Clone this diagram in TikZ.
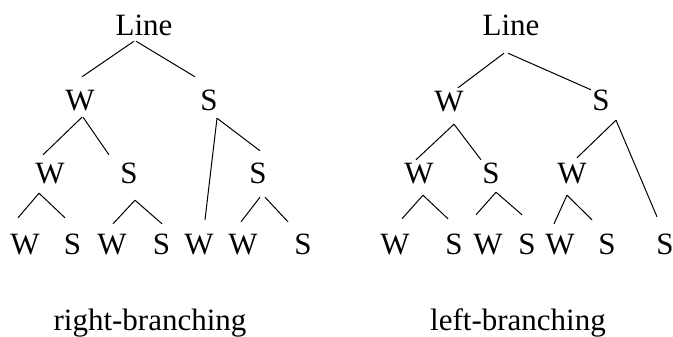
\documentclass[tikz,border=0pt]{standalone}
\usepackage{fontspec}
\setmainfont{Liberation Serif}
\usetikzlibrary{positioning}

\tikzset{
  syl/.style={font=\fontsize{31}{37}\selectfont,inner sep=0pt,
    text height=20.5pt,text depth=0pt},
  caption/.style={font=\fontsize{31}{37}\selectfont,inner sep=0pt,anchor=base},
  branch/.style={line width=1pt}
}

\begin{document}
\begin{tikzpicture}[x=1pt,y=-1pt]
  \useasboundingbox (0,0) rectangle (673,337);

  % right-branching tree
  \node[syl] (lineA) at (144,25) {Line};
  \node[syl] (wA1) at (80,100) {W};
  \node[syl] (sA1) at (209,100) {S};
  \node[syl] (wA2) at (50,173) {W};
  \node[syl] (sA2) at (129,173) {S};
  \node[syl] (sA3) at (258,173) {S};
  \node[syl] (a1) at (25,244.5) {W};
  \node[syl] (a2) at (72.5,244.5) {S};
  \node[syl] (a3) at (112,244.5) {W};
  \node[syl] (a4) at (161.5,244.5) {S};
  \node[syl] (a5) at (199,244.5) {W};
  \node[syl] (a6) at (243,244.5) {W};
  \node[syl] (a7) at (303,244.5) {S};

  \draw[branch] ([shift={(-10,5.75)}]lineA.south) -- ([shift={(2,-12.75)}]wA1.north);
  \draw[branch] ([shift={(-8,5.75)}]lineA.south) -- ([shift={(-14,-12.75)}]sA1.north);
  \draw[branch] ([shift={(2,6.75)}]wA1.south) -- ([shift={(-7,-7.75)}]wA2.north);
  \draw[branch] ([shift={(3,6.75)}]wA1.south) -- ([shift={(-20,-7.75)}]sA2.north);
  \draw[branch] ([shift={(8,7.75)}]sA1.south) -- ([shift={(6,-14.25)}]a5.north);
  \draw[branch] ([shift={(8,7.75)}]sA1.south) -- ([shift={(2,-11.75)}]sA3.north);
  \draw[branch] ([shift={(-11,9.75)}]wA2.south) -- ([shift={(-7,-16.25)}]a1.north);
  \draw[branch] ([shift={(-11,9.75)}]wA2.south) -- ([shift={(-7.5,-16.25)}]a2.north);
  \draw[branch] ([shift={(6,16.75)}]sA2.south) -- ([shift={(1,-10.25)}]a3.north);
  \draw[branch] ([shift={(6,16.75)}]sA2.south) -- ([shift={(0.5,-10.25)}]a4.north);
  \draw[branch] ([shift={(2,13.75)}]sA3.south) -- ([shift={(-2,-12.25)}]a6.north);
  \draw[branch] ([shift={(7,13.75)}]sA3.south) -- ([shift={(-15,-12.25)}]a7.north);

  % left-branching tree
  \node[syl] (lineB) at (511,25) {Line};
  \node[syl] (wB1) at (449,101) {W};
  \node[syl] (sB1) at (601,100) {S};
  \node[syl] (wB2) at (419,173) {W};
  \node[syl] (sB2) at (491,173) {S};
  \node[syl] (wB3) at (572,173) {W};
  \node[syl] (b1) at (395,244.5) {W};
  \node[syl] (b2) at (454,244.5) {S};
  \node[syl] (b3) at (488,244.5) {W};
  \node[syl] (b4) at (527,244.5) {S};
  \node[syl] (b5) at (560,244.5) {W};
  \node[syl] (b6) at (607,244.5) {S};
  \node[syl] (b7) at (665,244.5) {S};

  \draw[branch] ([shift={(-7,17.75)}]lineB.south) -- ([shift={(9,-2.75)}]wB1.north);
  \draw[branch] ([shift={(-3,17.75)}]lineB.south) -- ([shift={(-10,0.25)}]sB1.north);
  \draw[branch] ([shift={(5,12.75)}]wB1.south) -- ([shift={(-3,-2.75)}]wB2.north);
  \draw[branch] ([shift={(5,12.75)}]wB1.south) -- ([shift={(-10,-2.75)}]sB2.north);
  \draw[branch] ([shift={(15,9.75)}]sB1.south) -- ([shift={(5,-4.75)}]wB3.north);
  \draw[branch] ([shift={(15,9.75)}]sB1.south) -- ([shift={(-8,-17.25)}]b7.north);
  \draw[branch] ([shift={(4,11.75)}]wB2.south) -- ([shift={(7,-15.25)}]b1.north);
  \draw[branch] ([shift={(4,11.75)}]wB2.south) -- ([shift={(-6,-15.25)}]b2.north);
  \draw[branch] ([shift={(5,8.75)}]sB2.south) -- ([shift={(-12,-19.25)}]b3.north);
  \draw[branch] ([shift={(5,8.75)}]sB2.south) -- ([shift={(-5,-19.25)}]b4.north);
  \draw[branch] ([shift={(-5,11.75)}]wB3.south) -- ([shift={(-6,-10.25)}]b5.north);
  \draw[branch] ([shift={(-5,11.75)}]wB3.south) -- ([shift={(-15,-14.25)}]b6.north);

  \node[caption] (capA) at (150,330) {right-branching};
  \node[caption] (capB) at (518,330) {left-branching};
\end{tikzpicture}
\end{document}
